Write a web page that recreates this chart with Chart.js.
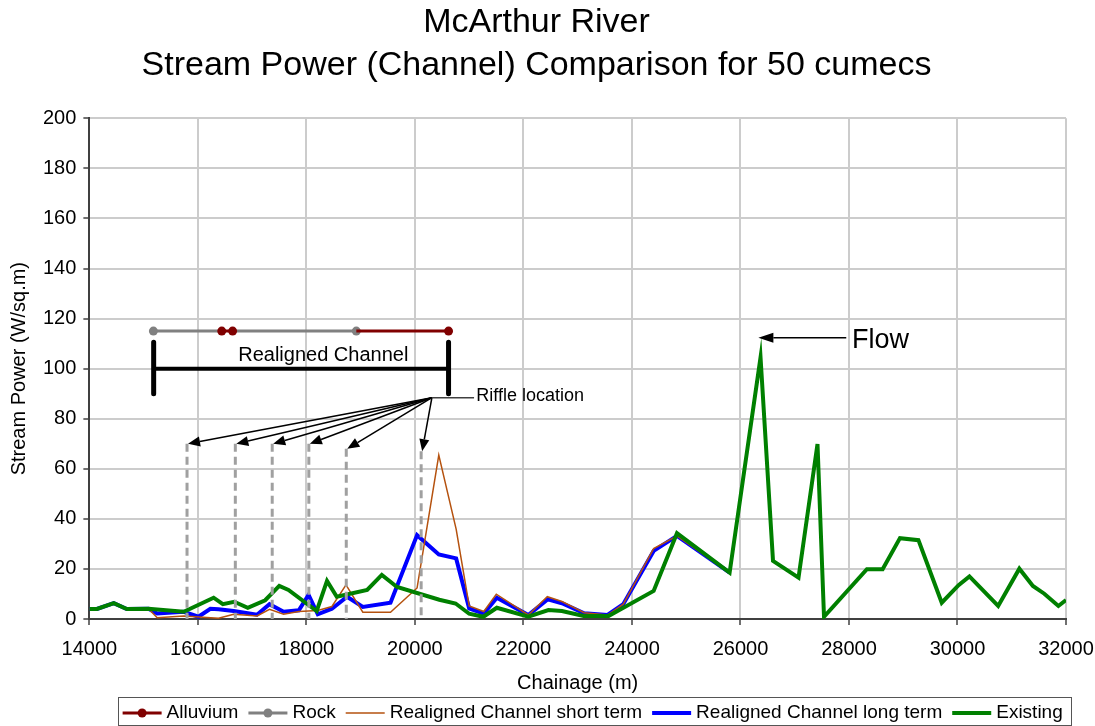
<!DOCTYPE html>
<html>
<head>
<meta charset="utf-8">
<title>McArthur River - Stream Power Comparison</title>
<script src="https://cdn.jsdelivr.net/npm/chart.js@4.4.1/dist/chart.umd.min.js"></script>
<style>
    html, body { margin: 0; padding: 0; background: #ffffff; }
    canvas { display: block; }
</style>
</head>
<body>
<canvas id="stream-chart" width="1095" height="726"></canvas>
<script>
/* ============================================================
   McArthur River · stream power (channel), 50 cumecs
   ============================================================ */

var TITLE_LINES = ['McArthur River', 'Stream Power (Channel) Comparison for 50 cumecs'];

var xTicks = [14000, 16000, 18000, 20000, 22000, 24000, 26000, 28000, 30000, 32000];
var yTicks = [0, 20, 40, 60, 80, 100, 120, 140, 160, 180, 200];

// Substrate along the realigned reach (plotted as bars at 115 W/sq.m)
var alluviumX = [16440, 16640, 17780, 18920, 20620];
var alluviumY = [115, 115, null, 115, 115];
var rockX     = [15180, 16440, 16540, 16640, 18920];
var rockY     = [115, 115, null, 115, 115];

// Realigned channel, short term
var shortX = [14000, 14140, 14450, 14690, 15090, 15250, 15740, 16380, 16660, 17090, 17320,
              17580, 17860, 18210, 18470, 18730, 19040, 19550, 20040, 20440, 20760, 21000,
              21270, 21500, 22090, 22440, 22710, 23120, 23550, 23840, 24400, 24830, 25800];
var shortY = [4, 4, 6.3, 4, 4.1, 0.5, 1.2, 0.3, 1.9, 1.2, 3.9,
              1.9, 3.0, 3.4, 5.0, 13.6, 2.7, 2.7, 12.4, 65.5, 35.9, 5.2,
              3.0, 9.9, 1.6, 8.9, 7.0, 2.5, 1.6, 5.9, 28.1, 33.2, 18.5];

// Realigned channel, long term
var longX = [14000, 14140, 14450, 14690, 15090, 15250, 15740, 16010, 16230, 16380, 16660, 17090,
             17320, 17580, 17860, 18040, 18210, 18470, 18750, 19040, 19550, 20040, 20440, 20760,
             21000, 21270, 21510, 22090, 22450, 22710, 23120, 23550, 23840, 24400, 24830, 25800];
var longY = [4, 4, 6.3, 4, 4.1, 2.2, 2.9, 0.9, 4.1, 3.9, 3.2, 1.7,
             5.9, 2.9, 3.5, 9.6, 1.9, 4.1, 8.9, 4.8, 6.5, 33.5, 25.8, 24.2,
             4.2, 2.1, 8.5, 1.6, 7.9, 6.3, 2.3, 1.6, 5.9, 27.2, 33.2, 18.5];

// Existing channel
var existingX = [14000, 14140, 14450, 14690, 15090, 15740, 16290, 16460, 16670, 16920, 17240, 17500,
                 17670, 18190, 18380, 18560, 19120, 19390, 19670, 20450, 20750, 21000, 21260, 21510,
                 22090, 22460, 22710, 23110, 23570, 24400, 24830, 25800, 26370, 26600, 27070, 27420,
                 27540, 28330, 28620, 28940, 29280, 29710, 30020, 30220, 30750, 31140, 31390, 31600,
                 31860, 32000];
var existingY = [4, 4, 6.3, 4, 4.1, 2.9, 8.5, 5.9, 6.9, 4.5, 7.5, 13.2,
                 11.6, 3.2, 15.2, 8.9, 11.6, 17.6, 12.8, 7.7, 6.2, 2.1, 0.9, 4.5,
                 0.9, 3.6, 3.2, 1.2, 1.2, 11.2, 34.3, 18.5, 104.5, 23.2, 16.5, 69.9,
                 0.9, 19.9, 19.9, 32.3, 31.5, 6.5, 13.5, 17, 5.2, 20.1, 13.2, 10.1,
                 5.2, 7.6];

// Riffle chainages and the height their marker lines reach
var riffleX   = [15800, 16690, 17370, 18045, 18735, 20115];
var riffleTop = [70, 70, 70, 70, 68, 67];

var realignedX = [15185, 20620];

var FONT = '"Liberation Sans", Arial, Helvetica, sans-serif';
Chart.defaults.font.family = FONT;
Chart.defaults.color = '#000000';

function toPoints(xs, ys) {
    return xs.map(function(x, i) { return { x: x, y: ys[i] }; });
}

function arrow(ctx, x1, y1, x2, y2, len, half) {
    var a  = Math.atan2(y2 - y1, x2 - x1);
    var bx = x2 - Math.cos(a) * len;
    var by = y2 - Math.sin(a) * len;
    ctx.beginPath();
    ctx.moveTo(x1, y1);
    ctx.lineTo(bx, by);
    ctx.stroke();
    ctx.beginPath();
    ctx.moveTo(x2, y2);
    ctx.lineTo(bx + Math.sin(a) * half, by - Math.cos(a) * half);
    ctx.lineTo(bx - Math.sin(a) * half, by + Math.cos(a) * half);
    ctx.closePath();
    ctx.fill();
}

// Drawn objects of the original sheet: riffles, bracket, flow arrow
var annotations = {
    id: 'annotations',
    afterDatasetsDraw: function(chart) {
        var ctx = chart.ctx;
        var xs = chart.scales.x, ys = chart.scales.y;
        function px(v) { return xs.getPixelForValue(v); }
        function py(v) { return ys.getPixelForValue(v); }

        ctx.save();

        ctx.strokeStyle = '#a0a0a0';
        ctx.lineWidth = 3;
        ctx.setLineDash([8, 5]);
        riffleX.forEach(function(c, i) {
            ctx.beginPath();
            ctx.moveTo(px(c), py(riffleTop[i]));
            ctx.lineTo(px(c), py(0));
            ctx.stroke();
        });
        ctx.setLineDash([]);

        // riffle callout
        var sx = px(20313), sy = py(88.4);
        ctx.strokeStyle = '#000000';
        ctx.fillStyle = '#000000';
        ctx.lineWidth = 1.5;
        riffleX.forEach(function(c, i) {
            arrow(ctx, sx, sy, px(c) + 1, py(riffleTop[i]), 12, 5);
        });
        ctx.strokeStyle = '#404040';
        ctx.beginPath();
        ctx.moveTo(sx, sy);
        ctx.lineTo(px(21090), sy);
        ctx.stroke();
        ctx.fillStyle = '#000000';
        ctx.font = '18px ' + FONT;
        ctx.textAlign = 'left';
        ctx.textBaseline = 'middle';
        ctx.fillText('Riffle location', px(21130), py(89.2));

        // realigned channel bracket
        var l = px(realignedX[0]), r = px(realignedX[1]);
        ctx.strokeStyle = '#000000';
        ctx.lineCap = 'round';
        ctx.lineWidth = 5;
        ctx.beginPath();
        ctx.moveTo(l, py(110.5)); ctx.lineTo(l, py(90));
        ctx.moveTo(r, py(110.5)); ctx.lineTo(r, py(90));
        ctx.stroke();
        ctx.lineCap = 'butt';
        ctx.lineWidth = 4;
        ctx.beginPath();
        ctx.moveTo(l, py(100)); ctx.lineTo(r, py(100));
        ctx.stroke();
        ctx.font = '20px ' + FONT;
        ctx.textAlign = 'center';
        ctx.fillText('Realigned Channel', px(18311), py(105.2));

        // flow direction
        ctx.lineWidth = 1.5;
        arrow(ctx, px(27950), py(112.3), px(26330), py(112.3), 15, 5);
        ctx.font = '27px ' + FONT;
        ctx.textAlign = 'left';
        ctx.fillText('Flow', px(28057), py(111.2));

        ctx.restore();
    }
};

// Excel style legend: line sample with marker, boxed, under the axis title
var boxedLegend = {
    id: 'boxedLegend',
    afterDraw: function(chart) {
        var ctx = chart.ctx;
        var sets = chart.data.datasets;
        ctx.save();
        ctx.font = '19px ' + FONT;
        var lineLen = 39, gapText = 5, gapItem = 10;
        var total = 0;
        sets.forEach(function(d, i) {
            total += lineLen + gapText + ctx.measureText(d.label).width;
            if (i < sets.length - 1) total += gapItem;
        });
        var cx = (chart.chartArea.left + chart.chartArea.right) / 2 + 15;
        var x = cx - total / 2;
        var cy = 713;

        ctx.strokeStyle = '#555555';
        ctx.lineWidth = 1;
        ctx.strokeRect(Math.round(x - 4.5) + 0.5, 697.5, Math.round(total + 13), 28);

        sets.forEach(function(d) {
            ctx.strokeStyle = d.borderColor;
            ctx.lineWidth = d.borderWidth;
            ctx.beginPath();
            ctx.moveTo(x, cy);
            ctx.lineTo(x + lineLen, cy);
            ctx.stroke();
            if (d.legendMarker) {
                ctx.fillStyle = d.borderColor;
                ctx.beginPath();
                ctx.arc(x + lineLen / 2, cy, 4.5, 0, Math.PI * 2);
                ctx.fill();
            }
            x += lineLen + gapText;
            ctx.fillStyle = '#000000';
            ctx.textAlign = 'left';
            ctx.textBaseline = 'middle';
            ctx.fillText(d.label, x, cy);
            x += ctx.measureText(d.label).width + gapItem;
        });
        ctx.restore();
    }
};

function fixedTicks(values) {
    return function(scale) {
        scale.ticks = values.map(function(v) { return { value: v }; });
    };
}

new Chart(document.getElementById('stream-chart'), {
    type: 'line',
    data: {
        datasets: [
            {
                label: 'Alluvium',
                data: toPoints(alluviumX, alluviumY),
                borderColor: '#800000',
                backgroundColor: '#800000',
                borderWidth: 3,
                pointRadius: [4.5, 4.5, 0, 0, 4.5],
                pointBorderWidth: 0,
                spanGaps: false,
                legendMarker: true,
                order: 0
            },
            {
                label: 'Rock',
                data: toPoints(rockX, rockY),
                borderColor: '#808080',
                backgroundColor: '#808080',
                borderWidth: 3,
                pointRadius: [4.5, 0, 0, 0, 4.5],
                pointBorderWidth: 0,
                spanGaps: false,
                legendMarker: true,
                order: 0
            },
            {
                label: 'Realigned Channel short term',
                data: toPoints(shortX, shortY),
                borderColor: '#b5520f',
                borderWidth: 1.5,
                pointRadius: 0,
                order: 2
            },
            {
                label: 'Realigned Channel long term',
                data: toPoints(longX, longY),
                borderColor: '#0000ff',
                borderWidth: 4,
                pointRadius: 0,
                order: 3
            },
            {
                label: 'Existing',
                data: toPoints(existingX, existingY),
                borderColor: '#008000',
                borderWidth: 4,
                pointRadius: 0,
                order: 1
            }
        ]
    },
    options: {
        responsive: false,
        animation: false,
        events: [],
        layout: { padding: { left: 7, right: 29, top: 0, bottom: 31 } },
        plugins: {
            legend: { display: false },
            tooltip: { enabled: false },
            title: {
                display: true,
                text: TITLE_LINES,
                color: '#000000',
                font: { size: 34, weight: 'normal', lineHeight: 1.24 },
                padding: { top: 2, bottom: 32 }
            }
        },
        scales: {
            x: {
                type: 'linear',
                min: 14000,
                max: 32000,
                afterBuildTicks: fixedTicks(xTicks),
                afterFit: function(scale) {
                    scale.paddingLeft = 0;
                    scale.paddingRight = 0;
                },
                ticks: {
                    font: { size: 20 },
                    padding: 12,
                    maxRotation: 0,
                    autoSkip: false,
                    callback: function(v) { return String(v); }
                },
                grid: { color: '#cccccc', lineWidth: 2, tickLength: 6, tickColor: '#404040', tickWidth: 1.5 },
                border: { color: '#404040', width: 2 },
                title: {
                    display: true,
                    text: 'Chainage (m)',
                    font: { size: 20 },
                    padding: { top: -2, bottom: 0 }
                }
            },
            y: {
                min: 0,
                max: 200,
                afterBuildTicks: fixedTicks(yTicks),
                ticks: {
                    font: { size: 20 },
                    padding: 7,
                    autoSkip: false,
                    callback: function(v) { return String(v); }
                },
                grid: { color: '#cccccc', lineWidth: 2, tickLength: 6, tickColor: '#404040', tickWidth: 1.5 },
                border: { color: '#404040', width: 2 },
                title: {
                    display: true,
                    text: 'Stream Power (W/sq.m)',
                    font: { size: 20 },
                    padding: { top: 0, bottom: 5 }
                }
            }
        }
    },
    plugins: [annotations, boxedLegend]
});
</script>
</body>
</html>
